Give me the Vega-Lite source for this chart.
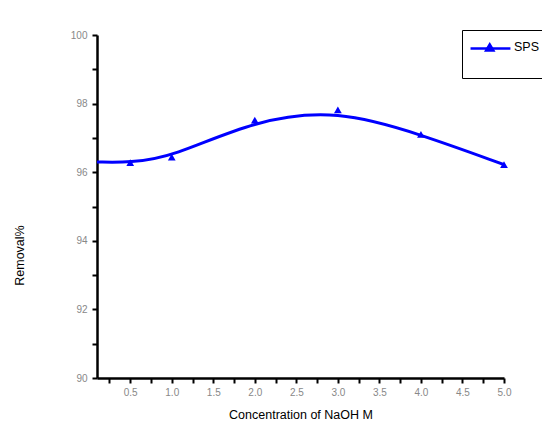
{
  "$schema": "https://vega.github.io/schema/vega-lite/v6.json",
  "width": 407,
  "height": 343,
  "autosize": "none",
  "padding": {"left": 97, "top": 35, "right": 38, "bottom": 50},
  "background": "white",
  "data": {"values": [
    {"conc": 0.1, "removal": 96.3, "series": "SPS"},
    {"conc": 0.5, "removal": 96.28, "series": "SPS"},
    {"conc": 1.0, "removal": 96.44, "series": "SPS"},
    {"conc": 2.0, "removal": 97.52, "series": "SPS"},
    {"conc": 3.0, "removal": 97.82, "series": "SPS"},
    {"conc": 4.0, "removal": 97.1, "series": "SPS"},
    {"conc": 5.0, "removal": 96.22, "series": "SPS"}
  ]},
  "config": {
    "view": {"stroke": null},
    "axis": {
      "domainColor": "black", "domainWidth": 2.5, "tickColor": "black", "tickWidth": 2, "tickSize": 5,
      "labelColor": "#888888", "labelFont": "Liberation Sans", "labelFontSize": 10,
      "titleFont": "Liberation Sans", "titleFontWeight": "normal", "titleColor": "black", "grid": false,
      "labelOverlap": false
    }
  },
  "encoding": {
    "x": {"field": "conc", "type": "quantitative", "scale": {"domain": [0.1, 5.0], "nice": false, "zero": false},
      "axis": {"title": "Concentration of NaOH M", "titleFontSize": 12.5, "titlePadding": 11,
        "values": [0.25,0.5,0.75,1,1.25,1.5,1.75,2,2.25,2.5,2.75,3,3.25,3.5,3.75,4,4.25,4.5,4.75,5],
        "labelExpr": "(round(datum.value*4) % 2 == 0) ? format(datum.value, '.1f') : ''",
        "labelPadding": 4, "labelFlush": false, "labelOverlap": false}},
    "y": {"field": "removal", "type": "quantitative", "scale": {"domain": [90, 100], "nice": false, "zero": false},
      "axis": {"title": "Removal%", "titleFontSize": 12.5, "titleX": -71, "titleY": 220,
        "values": [90,91,92,93,94,95,96,97,98,99,100],
        "labelExpr": "(round(datum.value) % 2 == 0) ? format(datum.value, 'd') : ''",
        "labelPadding": 5, "labelFlush": false, "labelOverlap": false}},
    "color": {"field": "series", "type": "nominal", "scale": {"range": ["#0000ff"]},
      "legend": {"title": " ", "titleOrient": "bottom", "titleFontSize": 8, "titlePadding": 2,
        "orient": "none", "legendX": 365, "legendY": -5,
        "strokeColor": "black", "padding": 6.5, "symbolType": "M-0.97,-0.4L1.31,-0.4", "symbolSize": 1225,
        "symbolStrokeWidth": 2.5, "symbolFillColor": "transparent", "labelFontSize": 12, "labelFont": "Liberation Sans",
        "labelExpr": "''", "labelOffset": 60}}
  },
  "layer": [
    {
      "mark": {"type": "line", "interpolate": "basis", "strokeWidth": 3, "clip": true}
    },
    {
      "transform": [{"filter": "datum.conc >= 0.5"}],
      "mark": {"type": "point", "filled": true, "size": 60, "opacity": 1},
      "encoding": {
        "shape": {"field": "series", "type": "nominal", "scale": {"range": ["triangle-up"]},
          "legend": {"title": null, "orient": "none", "legendX": 386.5, "legendY": 6,
            "padding": 0, "symbolSize": 80, "symbolFillColor": "#0000ff", "symbolStrokeColor": "#0000ff",
            "labelColor": "black", "labelFont": "Liberation Sans", "labelFontSize": 12.5, "labelOffset": 18}}
      }
    }
  ]
}
